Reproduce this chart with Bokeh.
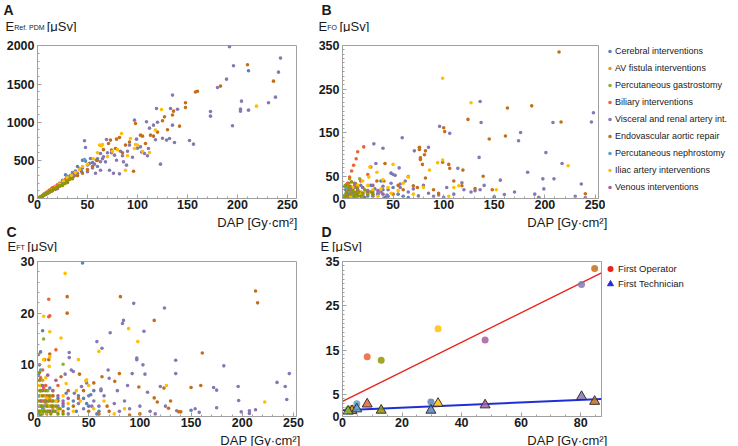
from bokeh.plotting import figure
from bokeh.models import Range1d, FixedTicker, Legend, LegendItem
from bokeh.layouts import row, column
from bokeh.embed import file_html
from bokeh.resources import INLINE
from bokeh.core.properties import value
import numpy as np

CATEGORIES = ["Cerebral interventions", "AV fistula interventions", "Percutaneous gastrostomy",
              "Biliary interventions", "Visceral and renal artery int.", "Endovascular aortic repair",
              "Percutaneous nephrostomy", "Iliac artery interventions", "Venous interventions",
              "Femoral and crural artery int."]
COLORS = ["#5E81B5", "#E19C24", "#8FB032", "#EB6235", "#8778B3", "#C56E1A",
          "#5D9EC7", "#FFBF00", "#A5609D", "#929600"]

# ---------------- Panel A : E_Ref.PDM vs DAP ----------------
A_CEREBRAL = [(211,1674),(45,500),(48,490),(40,420),(35,330),(33,300),(30,280),(28,310),(25,240),(22,200),
              (38,360),(42,385),(50,440),(55,470),(20,170),(18,150),(31,255),(36,290),(44,355),(27,225),
              (60,520),(15,120),(12,95),(34,270)]
A_AV = [(2,15),(3,25),(5,40),(4,30),(6,55),(8,60),(10,80),(7,50),(12,95),(15,120),(9,70),(11,85),
        (14,130),(20,160),(18,140)]
A_GASTRO = [(1,8),(2,12),(3,20),(5,35),(4,25),(6,45),(8,55),(10,75),(7,60),(12,90),(15,110),(9,65),
            (13,100),(20,150)]
A_BILIARY = [(5,40),(8,70),(10,90),(12,110),(15,140),(18,160),(20,180),(22,195),(25,230),(14,120),
             (17,150),(28,250),(30,270)]
A_VISCERAL = [(192,1988),(196,1739),(189,1564),(243,1840),(241,1656),(238,1328),(231,1254),(204,1276),
              (203,1171),(203,1145),(211,1158),(195,953),(180,1455),(173,1141),(173,1079),(152,760),
              (156,712),(135,1355),(133,1180),(119,1180),(135,961),(132,787),(129,765),(137,734),
              (112,922),(116,961),(109,1005),(97,1027),(111,656),(103,677),(107,590),(123,450),(99,778),
              (89,437),(86,480),(82,323),(79,502),(77,568),(69,773),(63,590),(66,546),(59,502),(63,481),
              (47,756),(48,668),(53,524),(63,371),(72,371),(76,330),(45,400),(40,330),(50,350),(55,400),
              (58,330),(60,420),(68,480),(70,600),(85,560),(90,620),(95,540),(100,660),(104,610),(110,560),
              (118,770),(125,790),(140,1170),(120,1000),(92,700),(83,620),(74,600),(65,520),(57,450),
              (43,380),(37,300),(33,260),(28,230),(24,200),(20,160),(35,340),(52,460)]
A_EVAR = [(210,1752),(236,1538),(158,1395),(160,1405),(183,1473),(148,1254),(148,1193),(136,1145),
          (135,1095),(127,1070),(125,1018),(142,948),(98,983),(103,830),(105,817),(113,830),(116,817),
          (96,358),(79,778),(82,800),(73,765),(71,721),(74,634),(78,656),(66,640),(60,500),(55,420),
          (50,380),(45,330),(40,300),(35,280),(88,700),(92,740),(120,870),(130,900),(108,720),(85,600)]
A_NEPHRO = [(3,20),(5,40),(7,55),(10,70),(47,510),(30,290),(25,220),(12,80),(15,110),(8,60),(20,150)]
A_ILIAC = [(219,1210),(124,1167),(118,896),(112,603),(98,708),(97,656),(93,787),(88,371),(84,852),
           (65,708),(64,690),(62,700),(60,600),(56,520),(50,450),(45,420),(42,380),(38,340),(34,300),
           (30,270),(26,230),(22,190),(18,150),(14,110),(10,80),(6,40),(70,550),(75,620),(80,640),
           (100,700),(105,620),(90,560)]
A_VENOUS = [(5,30),(8,55),(10,70),(12,90),(15,100),(20,130),(25,170),(30,210),(18,120),(22,160)]
A_FEMORAL = [(2,10),(4,25),(6,40),(8,55),(10,75),(12,90),(14,100),(16,120),(18,135),(20,150),(22,165),
             (25,180),(28,200),(30,230),(9,60),(11,80),(13,95),(15,110),(5,30),(7,45),(24,170),(26,190),
             (32,250),(35,260),(17,130),(19,140),(3,18)]

# ---------------- Panel B : E_FO vs DAP ----------------
B_CEREBRAL = [(5,5),(8,10),(10,3),(15,8),(20,12),(25,6),(30,15),(35,10),(40,20),(45,5),(50,25),(48,58),
              (55,10),(60,5),(28,30),(12,25),(18,30),(38,40),(22,2),(42,3),(65,2),(32,22),(3,20),(6,35),
              (2,28),(150,4)]
B_AV = [(2,5),(4,10),(6,15),(8,8),(10,20),(12,12),(15,25),(5,30),(18,15),(3,2),(14,4),(7,3)]
B_GASTRO = [(7,45),(17,45),(13,34),(5,20),(10,15),(3,10),(8,28),(15,10),(20,25),(25,18),(12,5),(2,3)]
B_BILIARY = [(21,118),(15,107),(13.5,91),(11,76),(9,63),(7,49),(5,35),(10,20),(18,40),(4,15),(6,8),
             (12,30),(25,55)]
B_VISCERAL = [(136,222),(248,196),(246,175),(208,174),(137,174),(96,165),(106,149),(176,151),(174,132),
              (201,105),(31,125),(40,115),(59,139),(71,109),(85,117),(33,80),(56,70),(114,69),(135,94),
              (156,42),(183,60),(198,45),(209,45),(217,80),(236,33),(199,22),(160,9),(136,20),(131,18),
              (127,15),(118,36),(50,55),(52,53),(57,33),(57,25),(90,5),(95,8),(100,3),(85,12),(75,6),
              (65,15),(45,20),(40,28),(35,12),(30,5),(25,18),(20,8),(15,12),(10,6),(150,2),(194,3),(240,2),
              (110,10),(120,20),(140,30),(170,15),(190,10),(230,5),(62,40),(80,30),(103,25),(70,22),
              (48,35),(44,8),(38,15)]
B_EVAR = [(214,335),(163,207),(187,212),(216,175),(124,181),(100,162),(101,153),(161,143),(145,136),
          (76,117),(76,112),(82,109),(81,100),(77,93),(77,89),(79,78),(42,80),(28,72),(99,83),(105,78),
          (106,69),(119,65),(139,51),(240,11),(131,23),(118,29),(82,47),(34,40),(41,40),(70,29),(74,25),
          (60,20),(50,10),(90,20),(110,40),(65,50),(55,30),(30,10),(20,5),(148,20),(95,12)]
B_NEPHRO = [(3,30),(5,25),(8,18),(10,10),(12,5),(6,12),(15,20),(4,5),(20,8)]
B_ILIAC = [(99,275),(127,219),(50,78),(94,82),(99,88),(223,75),(152,20),(115,29),(110,25),(86,65),
           (65,49),(40,43),(26,49),(27,72),(34,60),(20,40),(15,30),(10,25),(22,15),(30,20),(45,25),
           (55,18),(60,35),(70,10),(80,25),(35,5),(25,30),(12,15),(48,12),(38,22),(18,10),(105,5),(8,5)]
B_VENOUS = [(5,10),(10,15),(15,20),(20,25),(25,15),(30,30),(40,10),(12,35),(8,22),(35,18)]
B_FEMORAL = [(2,5),(4,12),(6,20),(8,10),(10,18),(12,8),(14,25),(16,15),(18,5),(20,12),(22,20),(25,10),
             (28,15),(30,8),(3,30),(5,3),(7,28),(9,38),(11,4),(13,14),(15,6)]

# ---------------- Panel C : E_FT vs DAP ----------------
C_CEREBRAL = [(44,29.7),(5,16.6),(2,10),(1,8),(3,6),(5,5),(8,4),(10,3),(15,2),(20,3.5),(25,2),(30,1.5),
              (35,3),(40,4),(45,3.5),(50,2),(55,5),(60,1),(48,2.5),(52,4.2),(38,1),(28,4.5),(18,1),
              (12,5.5),(6,3),(2,2),(1,1),(62,5),(58,0.5),(150,1.2),(3,12.5)]
C_AV = [(2,2),(4,3),(6,1.5),(8,2.5),(10,1),(12,3.5),(3,5),(5,7),(7,4),(15,1.5),(1,4),(9,0.5)]
C_GASTRO = [(6,15),(25,10.1),(2,5),(4,2),(8,3),(10,5),(12,2),(15,4),(3,1),(5,0.5),(20,1.5),(18,3)]
C_BILIARY = [(11,22.7),(11,19.3),(12,19.5),(18,12.9),(5,9),(8,6),(10,4),(13,3),(15,2),(7,11),(4,3),
             (20,6),(3,7.5),(6,5.5)]
C_VISCERAL = [(31,12.4),(31,11.4),(33,9),(35,8.7),(27,8.2),(43,5.8),(58,14.5),(63,13.2),(71,16.2),(83,18),
              (84,18.6),(94,21.9),(97,11),(97,11.3),(104,16.5),(103,10),(105,8.2),(92.5,8.3),(69,9),
              (70,7.4),(107.5,4.7),(124,21),(135,10.9),(135,8.3),(120,5.8),(125,2),(136,1.1),(154,1.5),
              (158,0.8),(172,5.6),(175,5.1),(175,1.7),(182,9.8),(196,5.8),(196.5,3.1),(199,0.9),
              (207,1.1),(207,0.6),(213,1.3),(234,6.6),(242,5.8),(243.5,3.3),(246,8.3),(50,4),(55,3),
              (60,2),(65,4),(75,2.5),(80,1),(85,3),(90,1.5),(100,2),(110,1),(115,0.5),(45,1.5),(40,2.5),
              (36,4.5),(25,3),(20,2),(15,1),(30,0.5),(48,6.5),(62,5.3),(53,2),(78,5),(88,6)]
C_EVAR = [(29,23.2),(29,20),(12,12.1),(11,11),(41,8.2),(23,7.7),(81,23.2),(80,8.3),(63,7.7),(75.5,6.8),
          (99,5.7),(114,18.6),(123.5,5.5),(114,3.6),(117,2.8),(128,1.6),(138,0.9),(140,0.9),(150,5.6),
          (159.5,6),(161,12.3),(213,24.3),(215,22),(20,3),(25,1),(35,2),(40,3.5),(50,1),(45,5),(60,0.5),
          (70,1),(90,0.3),(100,0.5),(30,5),(15,4),(10,2),(55,6.5),(130,3),(68,2)]
C_NEPHRO = [(2,4),(4,6),(6,2),(8,1),(10,3),(3,9),(5,1.5),(1,0.5),(12,1),(15,3)]
C_ILIAC = [(27,27.7),(6,19.4),(12,16.4),(23,15.2),(12,11.5),(6,11),(40,11),(11.4,9.7),(48,7.1),(47,6.9),
           (28,6.4),(60,12.6),(89,17),(98,14.5),(126,6),(222,2.8),(2,6),(4,4),(8,7.5),(10,2),(15,5),
           (18,3),(20,1),(25,4),(30,2.5),(35,1),(38,5),(42,3),(50,6),(55,1.5),(65,3),(75,0.5),(85,1.5),
           (9,3.5)]
C_VENOUS = [(5,6),(8,3),(10,8),(15,5),(20,4),(25,2.5),(30,3.5),(12,1),(3,3),(18,7)]
C_FEMORAL = [(1,3),(2,7),(3,5),(4,2),(5,4),(6,1),(7,3),(8,5),(9,2),(10,1),(11,3),(12,4),(13,0.5),(14,2),
             (15,3),(1,12),(2,1),(3,0.3),(16,1),(18,2),(20,0.5),(22,1.5),(25,0.5),(2,8.5)]

# ---------------- Panel D : mean E vs mean DAP per category ----------------
D_DAP = [29.7, 3.2, 1.9, 8.3, 80.3, 84.7, 4.8, 32.1, 47.9, 13.0]
D_OPERATOR = [3.25, 1.85, 1.6, 13.5, 29.8, 33.4, 2.9, 19.8, 17.3, 12.7]
D_TECHNICIAN = [1.4, 1.3, 1.2, 2.8, 4.5, 3.4, 1.7, 2.95, 2.6, 1.4]
D_SERIES = ["First Operator", "First Technician"]

A_X_TICKS = [0, 50, 100, 150, 200, 250]
A_Y_TICKS = [0, 500, 1000, 1500, 2000]
B_Y_TICKS = [0, 50, 150, 250, 350]
C_Y_TICKS = [0, 10, 20, 30]
D_X_TICKS = [0, 20, 40, 60, 80]
D_Y_TICKS = [0, 5, 15, 25, 35]

FONT = "Liberation Sans"
TXT = "#1a1a1a"
FRAME = "#a0a0a0"
RED = "#E8231C"
BLUE = "#1F2FD6"
XLAB = "DAP [Gy\u00b7cm\u00b2]"
MU = "[\u03bcSv]"
PAGE_W = 738
BASE_FIX = 3.5   # text glyphs render their alphabetic baseline this much lower


def styled_fig(w, h, left, right, top, bottom, xr, yr, xt, yt, xminor, yminor):
    p = figure(width=w, height=h, x_range=Range1d(*xr), y_range=Range1d(*yr), title=None,
               output_backend="svg", toolbar_location=None, tools="",
               min_border_left=left, min_border_right=right,
               min_border_top=top, min_border_bottom=bottom)
    p.xgrid.visible = False
    p.ygrid.visible = False
    p.outline_line_color = FRAME
    p.background_fill_color = "white"
    p.border_fill_color = "white"
    p.xaxis.ticker = FixedTicker(ticks=xt, minor_ticks=xminor)
    p.yaxis.ticker = FixedTicker(ticks=yt, minor_ticks=yminor)
    for ax in (p.xaxis[0], p.yaxis[0]):
        ax.axis_line_color = FRAME
        ax.major_tick_line_color = FRAME
        ax.minor_tick_line_color = FRAME
        ax.major_tick_in = 4
        ax.major_tick_out = 0
        ax.minor_tick_in = 2
        ax.minor_tick_out = 0
        ax.major_label_text_font = FONT
        ax.major_label_text_font_size = "12.5px"
        ax.major_label_text_font_style = "bold"
        ax.major_label_text_color = TXT
    p.xaxis[0].major_label_standoff = 1
    p.yaxis[0].major_label_standoff = 3
    return p


def blank_fig(width, height, top=0):
    """A figure without axes or title; its data units are pixels."""
    h = figure(width=width, height=height, x_range=Range1d(0, width), y_range=Range1d(0, height - top),
               x_axis_type=None, y_axis_type=None, title=None, min_border=0, min_border_top=top,
               output_backend="svg", toolbar_location=None, tools="")
    h.xgrid.visible = False
    h.ygrid.visible = False
    h.outline_line_color = None
    h.background_fill_color = "white"
    h.border_fill_color = "white"
    return h


def put(strip, top, wx, wy, text, size, bold=False, align="left"):
    """wx, wy: page position in pixels (wy = text baseline); top: page y of the strip's top."""
    strip.text(x=[wx], y=[strip.height - (wy - top) + BASE_FIX], text=[text],
               text_font=value(FONT), text_font_size=value(size),
               text_font_style="bold" if bold else "normal", text_color=TXT,
               text_align=align, text_baseline="alphabetic")


def ylabel(strip, top, wx, wy, sub, sub_w):
    put(strip, top, wx, wy, "E", "13px")
    if sub:
        put(strip, top, wx + 8.7, wy + 1.3, sub, "7px")
        put(strip, top, wx + 8.7 + sub_w + 2.5, wy, MU, "13px")
    else:
        put(strip, top, wx + 11.5, wy, MU, "13px")


def scatter_panel(p, datasets, size=3.6):
    for pts, color in zip(datasets, COLORS):
        xs = [q[0] for q in pts]
        ys = [q[1] for q in pts]
        p.scatter(xs, ys, size=size, fill_color=color, line_color=None)


def legend_key(fig, marker, color, line):
    # a key renderer for a legend figure: its single point lies outside the figure's ranges
    return fig.scatter(x=[-100], y=[-100], marker=marker, fill_color=color, line_color=line)


# ---- row 1 (page y 0-32): panel letters and y labels of A and B ----
R1_TOP = 0
h1 = blank_fig(PAGE_W, 32)
put(h1, R1_TOP, 3, 13, "A", "14px", bold=True)
ylabel(h1, R1_TOP, 5, 29, "Ref. PDM", 30)
put(h1, R1_TOP, 321, 13, "B", "14px", bold=True)
ylabel(h1, R1_TOP, 318, 29, "FO", 9.7)

# ---- row 2 (page y 32-213): panels A and B, category legend ----
pa = styled_fig(306, 181, 37, 10, 13, 15, (0, 259), (0, 2005), A_X_TICKS, A_Y_TICKS,
                list(range(0, 251, 10)), list(range(0, 2001, 100)))
scatter_panel(pa, [A_CEREBRAL, A_AV, A_GASTRO, A_BILIARY, A_VISCERAL, A_EVAR, A_NEPHRO, A_ILIAC,
                   A_VENOUS, A_FEMORAL])

pb = styled_fig(299, 181, 36, 7, 7, 15, (0, 253), (0, 350), A_X_TICKS, B_Y_TICKS,
                list(range(0, 251, 10)), list(range(0, 351, 10)))
scatter_panel(pb, [B_CEREBRAL, B_AV, B_GASTRO, B_BILIARY, B_VISCERAL, B_EVAR, B_NEPHRO, B_ILIAC,
                   B_VENOUS, B_FEMORAL])

lb = blank_fig(133, 181, top=2)
lb_items = [LegendItem(label=c, renderers=[legend_key(lb, "circle", col, None)])
            for c, col in zip(CATEGORIES, COLORS)]
lb.add_layout(Legend(items=lb_items, location="top_left", ncols=1, glyph_width=9, glyph_height=12,
                     label_height=12, spacing=5, padding=5, margin=0, label_standoff=1,
                     label_text_font=FONT, label_text_font_size="9px", label_text_color=TXT,
                     border_line_color=None, background_fill_alpha=0))

# ---- row 3 (page y 213-252): x labels of A and B, letters and y labels of C and D ----
R3_TOP = 213
h3 = blank_fig(PAGE_W, 39)
put(h3, R3_TOP, 297, 225, XLAB, "13px", align="right")
put(h3, R3_TOP, 607, 225, XLAB, "13px", align="right")
put(h3, R3_TOP, 6, 235, "C", "14px", bold=True)
put(h3, R3_TOP, 321, 235, "D", "14px", bold=True)
ylabel(h3, R3_TOP, 7, 249, "FT", 8.6)
ylabel(h3, R3_TOP, 320, 249, None, 0)

# ---- row 4 (page y 252-431): panels C and D, series legend ----
pc = styled_fig(306, 179, 37, 10, 7, 15, (0, 253), (0, 30), A_X_TICKS, C_Y_TICKS,
                list(range(0, 251, 10)), list(range(0, 31, 2)))
scatter_panel(pc, [C_CEREBRAL, C_AV, C_GASTRO, C_BILIARY, C_VISCERAL, C_EVAR, C_NEPHRO, C_ILIAC,
                   C_VENOUS, C_FEMORAL])

pd_ = styled_fig(296, 179, 36, 1, 7, 15, (0, 87), (0, 35), D_X_TICKS, D_Y_TICKS,
                 list(range(0, 86, 5)), list(range(0, 36, 1)))
xs_fit = np.array([0, 87])
op_fit = np.polyfit(D_DAP, D_OPERATOR, 1)
te_fit = np.polyfit(D_DAP, D_TECHNICIAN, 1)
pd_.line(xs_fit, np.polyval(op_fit, xs_fit), line_color=RED, line_width=1.4)
pd_.line(xs_fit, np.polyval(te_fit, xs_fit), line_color=BLUE, line_width=2)
pd_.scatter(D_DAP, D_OPERATOR, size=7, fill_color=COLORS, line_color=None, fill_alpha=0.85)
pd_.scatter(D_DAP, D_TECHNICIAN, marker="triangle", size=10, fill_color=COLORS, fill_alpha=0.85,
            line_color="#333333", line_width=1)

ld = blank_fig(136, 179, top=9)
ld.add_layout(Legend(items=[LegendItem(label=D_SERIES[0], renderers=[legend_key(ld, "circle", RED, None)]),
                            LegendItem(label=D_SERIES[1], renderers=[legend_key(ld, "triangle", BLUE, BLUE)])],
                     location="top_left", ncols=1, glyph_width=16, glyph_height=15, label_height=15,
                     spacing=0, padding=0, margin=0, label_standoff=0,
                     label_text_font=FONT, label_text_font_size="9.5px", label_text_color=TXT,
                     border_line_color=None, background_fill_alpha=0))

# ---- row 5 (page y 431-446): x labels of C and D ----
R5_TOP = 431
h5 = blank_fig(PAGE_W, 15)
put(h5, R5_TOP, 300, 443, XLAB, "13px", align="right")
put(h5, R5_TOP, 607, 443, XLAB, "13px", align="right")

layout = column(h1, row(pa, pb, lb), h3, row(pc, pd_, ld), h5)
open("out.html", "w").write(file_html(layout, INLINE))
